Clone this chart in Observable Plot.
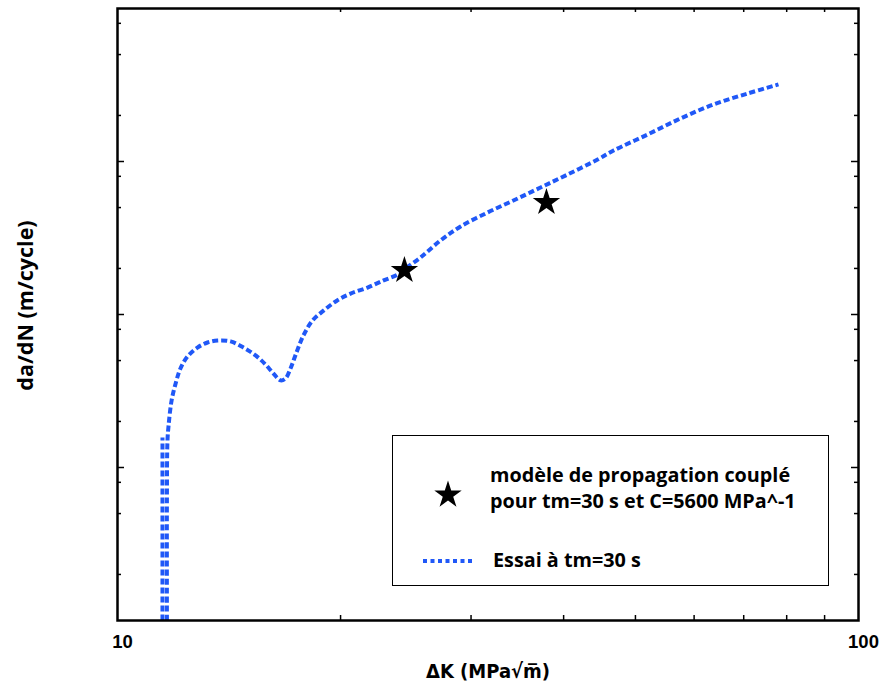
<!DOCTYPE html>
<html>
<head>
<meta charset="utf-8">
<script src="https://cdn.jsdelivr.net/npm/d3@7"></script>
<script src="https://cdn.jsdelivr.net/npm/@observablehq/plot@0.6"></script>
<style>
  body { margin: 0; background: #fff; }
  #wrap { position: relative; width: 880px; height: 684px; }
  #legend { position: absolute; left: 392px; top: 435px; width: 437px; height: 151px; box-sizing: border-box; border: 1.5px solid #000; background: #fff; }
  #legend svg { display: block; }
</style>
</head>
<body>
<div id="wrap"></div>
<script>
// Test curve "Essai à tm=30 s" (ΔK in MPa√m, da/dN in m/cycle)
const essaiDK = [11.66, 11.66, 11.68, 11.72, 11.83, 11.98, 12.16, 12.43, 12.82, 13.23,
  13.65, 14.21, 14.79, 15.36, 15.84, 16.24, 16.60, 16.86, 17.12, 17.44,
  17.82, 18.33, 18.97, 19.81, 20.63, 21.75, 22.86, 23.87, 24.47, 25.64,
  27.29, 29.04, 31.58, 34.22, 37.23, 40.49, 44.45, 46.71, 51.91, 57.51,
  63.74, 70.83, 77.98];
const essaiDadN = [1e-9, 6.08e-9, 1.50e-8, 1.88e-8, 2.74e-8, 3.54e-8, 4.44e-8, 5.31e-8, 6.08e-8, 6.56e-8,
  6.76e-8, 6.67e-8, 6.08e-8, 5.40e-8, 4.71e-8, 4.11e-8, 3.71e-8, 3.82e-8, 4.44e-8, 5.65e-8,
  7.29e-8, 9.14e-8, 1.06e-7, 1.24e-7, 1.37e-7, 1.50e-7, 1.67e-7, 1.82e-7, 2.00e-7, 2.36e-7,
  3.05e-7, 3.76e-7, 4.64e-7, 5.56e-7, 6.76e-7, 8.22e-7, 1.03e-6, 1.18e-6, 1.50e-6, 1.91e-6,
  2.36e-6, 2.78e-6, 3.19e-6];
// threshold branch of the test curve
const seuilDK = [11.50, 11.50];
const seuilDadN = [1e-9, 1.57e-8];

// coupled propagation model points
const modeleDK = [24.39, 37.92];
const modeleDadN = [1.94e-7, 5.40e-7];

// ticks
const xTickLabels = [10, 100];
const xMinorTicks = [20, 30, 40, 50, 60, 70, 80, 90];
const yMajorTicks = [1e-8, 1e-7, 1e-6];
const yMinorTicks = [2e-9, 5e-9, 8e-9, 2e-8, 5e-8, 8e-8, 2e-7, 5e-7, 8e-7, 2e-6, 5e-6, 8e-6];

const xLabel = "\u0394K (MPa\u221Am\u0305)";
const yLabel = "da/dN (m/cycle)";
const legendModel = ["mod\u00e8le de propagation coupl\u00e9", "pour tm=30 s et C=5600 MPa^-1"];
const legendEssai = "Essai \u00e0 tm=30 s";

const blue = "#2058f7";
const W = 880, H = 684, mL = 117, mR = 22, mT = 8, mB = 64;
const fw = W - mL - mR, fh = H - mT - mB;

const lineRows = [
  ...essaiDK.map((d, i) => ({dK: d, dadN: essaiDadN[i], seg: "main"})),
  ...seuilDK.map((d, i) => ({dK: d, dadN: seuilDadN[i], seg: "seuil"}))
];
const modelRows = modeleDK.map((d, i) => ({dK: d, dadN: modeleDadN[i]}));

const chart = Plot.plot({
  width: W, height: H,
  marginLeft: mL, marginRight: mR, marginTop: mT, marginBottom: mB,
  style: {fontFamily: "'Liberation Sans', Arial, sans-serif", background: "#fff", overflow: "visible"},
  x: {type: "log", domain: [10, 100], axis: null},
  y: {type: "log", domain: [1e-9, 1e-5], axis: null},
  marks: [
    Plot.line(lineRows, {x: "dK", y: "dadN", z: "seg", stroke: blue, strokeWidth: 4, strokeDasharray: "6,3", strokeLinecap: "butt", curve: "catmull-rom", clip: true}),
    Plot.dot(modelRows, {x: "dK", y: "dadN", symbol: "star", r: 8.6, fill: "#000", stroke: "none"}),
    // inward ticks on all four sides
    Plot.tickX(xMinorTicks, {x: d => d, insetTop: fh - 5, stroke: "#000", strokeWidth: 1.5}),
    Plot.tickX(xMinorTicks, {x: d => d, insetBottom: fh - 4, stroke: "#000", strokeWidth: 1.5}),
    Plot.tickY(yMajorTicks, {y: d => d, insetRight: fw - 7, stroke: "#000", strokeWidth: 1.5}),
    Plot.tickY(yMajorTicks, {y: d => d, insetLeft: fw - 7, stroke: "#000", strokeWidth: 1.5}),
    Plot.tickY(yMinorTicks, {y: d => d, insetRight: fw - 4, stroke: "#000", strokeWidth: 1.5}),
    Plot.tickY(yMinorTicks, {y: d => d, insetLeft: fw - 4, stroke: "#000", strokeWidth: 1.5}),
    Plot.frame({stroke: "#000", strokeWidth: 2.5}),
    Plot.text(xTickLabels, {x: d => d, text: d => String(d), frameAnchor: "bottom", dx: 5, dy: 27, fontSize: 18.5, fontWeight: "bold", fill: "#000"}),
    Plot.text([xLabel], {text: d => d, frameAnchor: "bottom", dx: 0, dy: 57, fontSize: 20, fontWeight: "bold", fill: "#000", fontFamily: "'Liberation Sans Narrow', 'DejaVu Sans Condensed', sans-serif"}),
    Plot.text([yLabel], {text: d => d, frameAnchor: "left", textAnchor: "middle", rotate: -90, dx: -91, dy: -9, fontSize: 21.5, fontWeight: "bold", fill: "#000", fontFamily: "'Open Sans', sans-serif"})
  ]
});

const wrap = document.getElementById("wrap");
wrap.appendChild(chart);

const legend = document.createElement("div");
legend.id = "legend";
legend.innerHTML = `
<svg width="434" height="148" font-family="'Open Sans', sans-serif" font-weight="bold">
  <path transform="translate(55,59)" d="${d3.symbol(d3.symbolStar, 8.6 * 8.6 * Math.PI)()}" fill="#000"/>
  <text x="97" y="46" font-size="19.8">${legendModel[0]}</text>
  <text x="97" y="72" font-size="19.8">${legendModel[1]}</text>
  <line x1="30" x2="79" y1="125" y2="125" stroke="${blue}" stroke-width="4" stroke-dasharray="4,3.5"/>
  <text x="100" y="131" font-size="19.8">${legendEssai}</text>
</svg>`;
wrap.appendChild(legend);
</script>
</body>
</html>
